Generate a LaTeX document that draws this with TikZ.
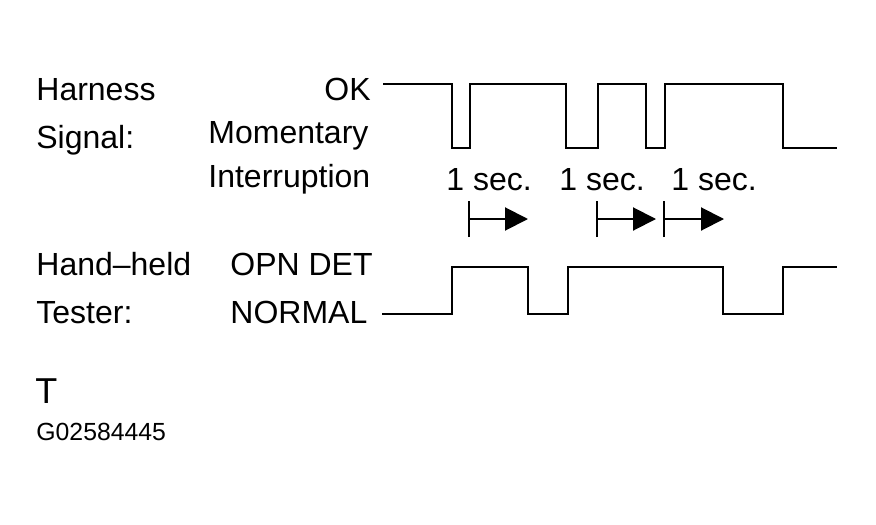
\documentclass[tikz,border=0pt]{standalone}
\usepackage{fontspec}
\setmainfont{Liberation Sans}
\usetikzlibrary{arrows.meta}
\tikzset{every node/.style={draw=none,inner sep=0pt,font=\fontsize{16}{19}\selectfont},
  lbl/.style={anchor=base west},
  rlbl/.style={anchor=base east},
  wave/.style={line width=1pt,line join=miter},
  tester/.style={line width=1.4pt,line join=miter},
  span/.style={line width=1pt,{Bar[width=18pt,line width=1pt]}-{Triangle[length=11.5pt,width=11.5pt]}}}

\begin{document}
\begin{tikzpicture}[x=0.5pt,y=-0.5pt]
  \useasboundingbox (0,0) rectangle (876,524);
      \node[lbl] (harness) at (36,100) {Harness};
      \node[lbl] (signal) at (36,148) {Signal:};
      \node[rlbl] (ok) at (371,100) {OK};
      \node[lbl] (moment) at (208,143) {Momentary};
      \node[lbl] (interr) at (208,187) {Interruption};
      \node[lbl] (hand) at (36,275) {Hand--held};
      \node[lbl] (tester) at (36,323) {Tester:};
      \node[lbl] (opn) at (230,275) {OPN DET};
      \node[lbl] (normal) at (230,323) {NORMAL};
      \node[lbl,font=\fontsize{18}{20}\selectfont] (t) at (35,403) {T};
      \node[lbl,font=\fontsize{12.4}{14}\selectfont] (code) at (36,440) {G02584445};
      \node[lbl] (s1) at (446,190) {1 sec.};
      \node[lbl] (s2) at (559,190) {1 sec.};
      \node[lbl] (s3) at (671,190) {1 sec.};

      % harness signal
      \draw[wave] (383,84) -| (452,148) -| (470,84) -| (566,148) -| (598,84)
        -| (646,148) -| (665,84) -| (783,148) -- (837,148);
      % tester signal
      \draw[tester] (382,314) -| (452,267) -| (528,314) -| (568,267)
        -| (723,314) -| (783,267) -- (837,267);

      % one second spans
      \coordinate (a1) at (468,219);
      \coordinate (b1) at (528,219);
      \coordinate (a2) at (596,219);
      \coordinate (b2) at (656,219);
      \coordinate (a3) at (663,219);
      \coordinate (b3) at (724,219);
\foreach \a/\b in {a1/b1,a2/b2,a3/b3}
  \draw[span] (\a) -- (\b);
\end{tikzpicture}
\end{document}
